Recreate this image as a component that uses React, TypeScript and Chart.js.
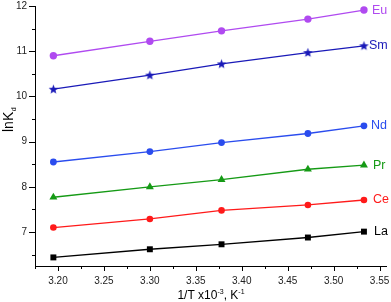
import React, { useEffect, useRef } from "react";
import { Chart, registerables } from "chart.js";
Chart.register(...registerables);

// ---- data ----
const invT = [3.195, 3.3, 3.378, 3.472, 3.533];
const La = [6.44, 6.62, 6.73, 6.88, 7.01];
const Ce = [7.1, 7.29, 7.48, 7.6, 7.71];
const Pr = [7.77, 8.0, 8.16, 8.39, 8.48];
const Nd = [8.55, 8.78, 8.98, 9.18, 9.35];
const Sm = [10.16, 10.47, 10.72, 10.97, 11.12];
const Eu = [10.9, 11.22, 11.45, 11.71, 11.91];
const seriesNames = ["La", "Ce", "Pr", "Nd", "Sm", "Eu"];
const xMajorTicks = [3.2, 3.25, 3.3, 3.35, 3.4, 3.45, 3.5, 3.55];
const xMinorTicks = [3.175, 3.225, 3.275, 3.325, 3.375, 3.425, 3.475, 3.525];
const yMajorTicks = [7, 8, 9, 10, 11, 12];
const yMinorTicks = [6.5, 7.5, 8.5, 9.5, 10.5, 11.5];

const FONT = "'Liberation Sans', Arial, sans-serif";

function makeStar(color: string) {
  const c = document.createElement("canvas");
  c.width = 11;
  c.height = 11;
  const g = c.getContext("2d")!;
  g.fillStyle = color;
  g.beginPath();
  const cx = 5.5, cy = 5.8, ro = 5, ri = 2.1;
  for (let i = 0; i < 10; i++) {
    const r = i % 2 === 0 ? ro : ri;
    const a = -Math.PI / 2 + (i * Math.PI) / 5;
    const px = cx + r * Math.cos(a);
    const py = cy + r * Math.sin(a);
    if (i === 0) g.moveTo(px, py);
    else g.lineTo(px, py);
  }
  g.closePath();
  g.fill();
  return c;
}

export default function App() {
  const ref = useRef<HTMLCanvasElement>(null);
  useEffect(() => {
    const colors: Record<string, string> = {
      La: "#000000",
      Ce: "#ff1a1a",
      Pr: "#159a15",
      Nd: "#2a4cee",
      Sm: "#1a1ab8",
      Eu: "#b04af0",
    };
    const values: Record<string, number[]> = { La, Ce, Pr, Nd, Sm, Eu };
    const styles: Record<string, any> = {
      La: { pointStyle: "rect", pointRadius: 4.2 },
      Ce: { pointStyle: "circle", pointRadius: 3.3 },
      Pr: { pointStyle: "triangle", pointRadius: 4.6 },
      Nd: { pointStyle: "circle", pointRadius: 3.4 },
      Sm: { pointStyle: makeStar(colors.Sm), pointRadius: 5 },
      Eu: { pointStyle: "circle", pointRadius: 3.7 },
    };
    const labelOffsets: Record<string, number> = { La: 10, Ce: 9, Pr: 9, Nd: 7, Sm: 5, Eu: 8 };

    const datasets = seriesNames.map((n) => ({
      label: n,
      data: invT.map((x, i) => ({ x, y: values[n][i] })),
      borderColor: colors[n],
      backgroundColor: colors[n],
      borderWidth: 1.3,
      pointBorderWidth: 0,
      ...styles[n],
    }));

    const decor = {
      id: "decor",
      afterDraw(chart: any) {
        const ctx = chart.ctx;
        const xs = chart.scales.x;
        const ys = chart.scales.y;
        const area = chart.chartArea;
        ctx.save();
        ctx.strokeStyle = "#000";
        ctx.lineWidth = 1;
        const drawX = (v: number, len: number) => {
          const px = Math.round(xs.getPixelForValue(v)) + 0.5;
          ctx.beginPath();
          ctx.moveTo(px, area.bottom);
          ctx.lineTo(px, area.bottom + len);
          ctx.stroke();
        };
        xMajorTicks.forEach((v) => drawX(v, 5));
        xMinorTicks.forEach((v) => drawX(v, 3));
        const drawY = (v: number, len: number) => {
          const py = Math.round(ys.getPixelForValue(v)) + 0.5;
          ctx.beginPath();
          ctx.moveTo(area.left, py);
          ctx.lineTo(area.left - len, py);
          ctx.stroke();
        };
        yMajorTicks.forEach((v) => drawY(v, 6));
        yMinorTicks.forEach((v) => drawY(v, 3));

        // series labels
        ctx.font = `12.5px ${FONT}`;
        ctx.textBaseline = "middle";
        ctx.textAlign = "left";
        chart.data.datasets.forEach((ds: any, i: number) => {
          const meta = chart.getDatasetMeta(i);
          const pt = meta.data[meta.data.length - 1];
          ctx.fillStyle = ds.borderColor;
          ctx.fillText(ds.label, pt.x + labelOffsets[ds.label], pt.y);
        });

        // x title
        ctx.fillStyle = "#000";
        ctx.textBaseline = "alphabetic";
        const parts: [string, number, number][] = [
          ["1/T x10", 12, 0],
          ["-3", 7, -5],
          [", K", 12, 0],
          ["-1", 7, -5],
        ];
        let total = 0;
        parts.forEach(([t, s]) => {
          ctx.font = `${s}px ${FONT}`;
          total += ctx.measureText(t).width;
        });
        let cx = 211 - total / 2;
        const base = 298.5;
        parts.forEach(([t, s, dy]) => {
          ctx.font = `${s}px ${FONT}`;
          ctx.fillText(t, cx, base + dy);
          cx += ctx.measureText(t).width;
        });

        // y title (rotated)
        ctx.translate(12.5, 132);
        ctx.rotate(-Math.PI / 2);
        ctx.font = `14px ${FONT}`;
        ctx.fillText("lnK", 0, 0);
        const w = ctx.measureText("lnK").width;
        ctx.font = `7px ${FONT}`;
        ctx.fillText("d", w + 0.5, 3.5);
        ctx.restore();
      },
    };

    const chart = new Chart(ref.current!, {
      type: "line",
      data: { datasets },
      options: {
        animation: false,
        responsive: false,
        devicePixelRatio: 1,
        layout: { padding: { left: 0, top: 6, right: 5, bottom: 0 } },
        plugins: { legend: { display: false }, tooltip: { enabled: false } },
        scales: {
          x: {
            type: "linear",
            min: 3.175,
            max: 3.557,
            afterBuildTicks: (s: any) => {
              s.ticks = xMajorTicks.map((v) => ({ value: v }));
            },
            afterFit: (s: any) => {
              s.height = 36;
              s.paddingLeft = 0;
              s.paddingRight = 0;
              s.paddingTop = 0;
              s.paddingBottom = 0;
            },
            ticks: {
              autoSkip: false,
              maxRotation: 0,
              padding: 9,
              color: "#222",
              font: { size: 10, family: FONT },
              callback: (v: any) => Number(v).toFixed(2),
            },
            grid: { display: true, drawOnChartArea: false, drawTicks: false },
            border: { display: true, color: "#000", width: 1 },
          },
          y: {
            type: "linear",
            min: 6.25,
            max: 12,
            afterBuildTicks: (s: any) => {
              s.ticks = yMajorTicks.map((v) => ({ value: v }));
            },
            afterFit: (s: any) => {
              s.width = 35;
              s.paddingLeft = 0;
              s.paddingRight = 0;
              s.paddingTop = 0;
              s.paddingBottom = 0;
            },
            ticks: {
              autoSkip: false,
              padding: 8,
              color: "#222",
              font: { size: 10, family: FONT },
              callback: (v: any) => String(v),
            },
            grid: { display: true, drawOnChartArea: false, drawTicks: false },
            border: { display: true, color: "#000", width: 1 },
          },
        },
      },
      plugins: [decor],
    });
    return () => chart.destroy();
  }, []);

  return (
    <div style={{ position: "absolute", left: 0, top: 0, width: 391, height: 302, background: "#fff" }}>
      <canvas ref={ref} width={391} height={302} />
    </div>
  );
}
